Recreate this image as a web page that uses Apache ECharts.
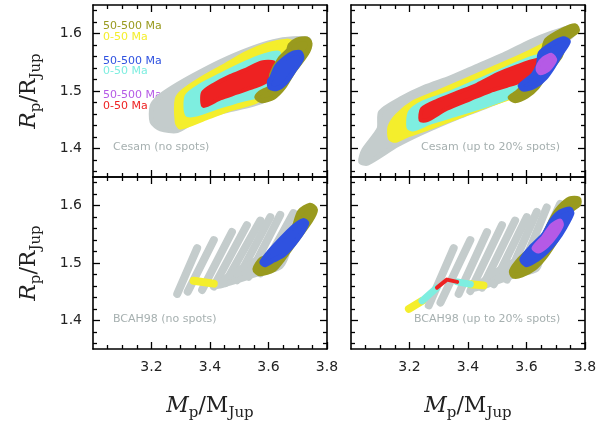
<!DOCTYPE html>
<html>
<head>
<meta charset="utf-8">
<script src="https://cdn.jsdelivr.net/npm/echarts@6/dist/echarts.min.js"></script>
<style>html,body{margin:0;background:#fff}#chart{width:600px;height:421px}</style>
</head>
<body>
<div id="chart"></div>
<script>
// axis ticks
const xMajor = [3.2, 3.4, 3.6, 3.8];
const xMinor = [3.05, 3.1, 3.15, 3.25, 3.3, 3.35, 3.45, 3.5, 3.55, 3.65, 3.7, 3.75];
const yMajor = [1.4, 1.5, 1.6];
const yMinor = [1.36, 1.38, 1.42, 1.44, 1.46, 1.48, 1.52, 1.54, 1.56, 1.58, 1.62, 1.64];

// Cesam, no spots (outlines of the point clouds)
const tlGrey = [[3.202,1.474],[3.225,1.489],[3.276,1.507],[3.344,1.527],[3.435,1.551],[3.526,1.571],[3.617,1.586],[3.685,1.591],[3.736,1.590],[3.740,1.577],[3.697,1.543],[3.640,1.509],[3.594,1.486],[3.549,1.477],[3.458,1.466],[3.367,1.454],[3.288,1.431],[3.231,1.434],[3.202,1.446]];
const tlYellow = [[3.288,1.486],[3.310,1.500],[3.367,1.520],[3.447,1.543],[3.526,1.566],[3.594,1.580],[3.662,1.587],[3.685,1.583],[3.651,1.560],[3.617,1.531],[3.594,1.503],[3.560,1.483],[3.469,1.469],[3.390,1.454],[3.299,1.437],[3.288,1.446]];
const tlCyan = [[3.322,1.491],[3.367,1.509],[3.435,1.527],[3.515,1.547],[3.583,1.561],[3.634,1.566],[3.628,1.543],[3.611,1.514],[3.577,1.494],[3.515,1.486],[3.435,1.474],[3.356,1.460],[3.322,1.460]];
const tlRed = [[3.376,1.497],[3.413,1.511],[3.469,1.526],[3.526,1.538],[3.577,1.550],[3.617,1.550],[3.623,1.537],[3.594,1.517],[3.549,1.507],[3.492,1.497],[3.435,1.487],[3.378,1.474]];
const tlOlive = [[3.674,1.580],[3.697,1.589],[3.731,1.591],[3.742,1.583],[3.731,1.566],[3.685,1.534],[3.651,1.506],[3.617,1.489],[3.577,1.483],[3.560,1.489],[3.572,1.497],[3.606,1.507],[3.611,1.529],[3.640,1.557],[3.668,1.571]];
const tlBlue = [[3.611,1.523],[3.628,1.543],[3.657,1.557],[3.685,1.566],[3.708,1.567],[3.714,1.557],[3.685,1.534],[3.657,1.514],[3.628,1.504],[3.606,1.506],[3.603,1.517]];

// Cesam, up to 20% spots
const trGrey = [[3.033,1.377],[3.044,1.397],[3.096,1.434],[3.101,1.463],[3.169,1.486],[3.249,1.506],[3.340,1.523],[3.431,1.543],[3.522,1.563],[3.613,1.586],[3.681,1.600],[3.749,1.611],[3.766,1.606],[3.749,1.594],[3.647,1.566],[3.613,1.526],[3.567,1.497],[3.465,1.474],[3.363,1.454],[3.249,1.429],[3.158,1.406],[3.056,1.374]];
const trYellow = [[3.135,1.417],[3.133,1.437],[3.158,1.457],[3.215,1.480],[3.294,1.497],[3.385,1.517],[3.476,1.537],[3.567,1.557],[3.647,1.577],[3.726,1.600],[3.766,1.611],[3.766,1.603],[3.669,1.571],[3.635,1.543],[3.613,1.514],[3.567,1.494],[3.476,1.477],[3.374,1.457],[3.272,1.437],[3.192,1.423],[3.152,1.414]];
const trCyan = [[3.198,1.437],[3.203,1.463],[3.249,1.480],[3.328,1.494],[3.419,1.514],[3.510,1.534],[3.578,1.549],[3.647,1.560],[3.658,1.543],[3.635,1.520],[3.601,1.506],[3.544,1.491],[3.453,1.474],[3.363,1.460],[3.272,1.446],[3.215,1.434]];
const trRed = [[3.238,1.449],[3.243,1.469],[3.294,1.483],[3.363,1.497],[3.431,1.511],[3.499,1.529],[3.567,1.543],[3.635,1.554],[3.664,1.551],[3.658,1.540],[3.613,1.531],[3.578,1.517],[3.533,1.509],[3.476,1.500],[3.408,1.486],[3.328,1.469],[3.260,1.449]];
const trOlive = [[3.669,1.589],[3.726,1.607],[3.766,1.614],[3.774,1.605],[3.738,1.591],[3.715,1.560],[3.669,1.531],[3.635,1.506],[3.601,1.491],[3.561,1.483],[3.544,1.489],[3.567,1.497],[3.590,1.509],[3.613,1.520],[3.641,1.543],[3.658,1.571]];
const trBlue = [[3.647,1.566],[3.681,1.580],[3.726,1.591],[3.743,1.586],[3.715,1.563],[3.692,1.543],[3.664,1.523],[3.630,1.509],[3.590,1.503],[3.578,1.509],[3.596,1.517],[3.624,1.529],[3.641,1.546]];
const trViolet = [[3.641,1.546],[3.658,1.557],[3.686,1.563],[3.698,1.554],[3.675,1.537],[3.647,1.531],[3.638,1.537]];

// BCAH98, no spots: grey tracks as [start, end]
const blTracks = [
  [[3.288,1.446],[3.356,1.526]],
  [[3.324,1.450],[3.413,1.540]],
  [[3.373,1.453],[3.475,1.554]],
  [[3.413,1.459],[3.526,1.566]],
  [[3.452,1.465],[3.572,1.574]],
  [[3.492,1.470],[3.606,1.580]],
  [[3.532,1.476],[3.640,1.584]],
  [[3.572,1.482],[3.685,1.587]],
  [[3.606,1.489],[3.719,1.590]]
];
const blGrey = [[3.424,1.460],[3.572,1.483],[3.640,1.494],[3.662,1.520],[3.594,1.514],[3.526,1.497],[3.469,1.480]];
const blYellow = [[3.344,1.469],[3.413,1.464]];
const blOlive = [[3.555,1.489],[3.577,1.506],[3.628,1.514],[3.685,1.557],[3.708,1.589],[3.742,1.600],[3.759,1.593],[3.742,1.574],[3.685,1.534],[3.646,1.506],[3.617,1.489],[3.572,1.482]];
const blBlue = [[3.577,1.501],[3.594,1.514],[3.640,1.540],[3.685,1.563],[3.719,1.574],[3.731,1.569],[3.697,1.540],[3.651,1.514],[3.617,1.505],[3.589,1.497]];

// BCAH98, up to 20% spots
const brTracks = [
  [[3.266,1.426],[3.351,1.526]],
  [[3.306,1.431],[3.408,1.540]],
  [[3.368,1.446],[3.465,1.554]],
  [[3.408,1.451],[3.516,1.566]],
  [[3.448,1.457],[3.561,1.574]],
  [[3.488,1.463],[3.601,1.580]],
  [[3.533,1.471],[3.635,1.589]],
  [[3.578,1.483],[3.669,1.597]],
  [[3.613,1.489],[3.715,1.603]]
];
const brGrey = [[3.420,1.455],[3.567,1.480],[3.635,1.490],[3.650,1.520],[3.590,1.510],[3.520,1.493]];
const brYellowA = [[3.198,1.420],[3.243,1.434]];
const brCyanA = [[3.243,1.434],[3.294,1.457]];
const brRed = [[3.294,1.457],[3.328,1.471],[3.363,1.467]];
const brCyanB = [[3.363,1.467],[3.408,1.463]];
const brYellowB = [[3.408,1.463],[3.453,1.461]];
const brOlive = [[3.550,1.486],[3.578,1.506],[3.613,1.523],[3.658,1.546],[3.692,1.580],[3.715,1.597],[3.749,1.611],[3.777,1.611],[3.777,1.603],[3.749,1.591],[3.726,1.563],[3.692,1.534],[3.658,1.509],[3.624,1.491],[3.584,1.480],[3.556,1.478]];
const brBlue = [[3.584,1.506],[3.613,1.526],[3.658,1.549],[3.686,1.574],[3.715,1.589],[3.749,1.594],[3.755,1.586],[3.732,1.563],[3.703,1.540],[3.669,1.520],[3.635,1.506],[3.601,1.497]];
const brViolet = [[3.624,1.526],[3.658,1.546],[3.686,1.566],[3.715,1.574],[3.721,1.566],[3.698,1.546],[3.669,1.529],[3.641,1.520]];

const C = {
  grey: '#c4cccc', yellow: '#f4ee2c', cyan: '#7eeee0', red: '#ee2222',
  olive: '#999a1e', blue: '#2f52e0', violet: '#b55ae6', label: '#a6b0b0'
};

const myChart = echarts.init(document.getElementById('chart'));

const panels = [
  { left: 93, top: 5 }, { left: 351, top: 5 },
  { left: 93, top: 177 }, { left: 351, top: 177 }
];
const grid = panels.map(p => ({ left: p.left, top: p.top, width: 234, height: 172 }));

const xAxis = [], yAxis = [];
panels.forEach((p, g) => {
  const xl = g >= 2, yl = g % 2 === 0;
  const mk = (pos, ticks, len, line, lab, isX) => ({
    type: 'value', gridIndex: g, position: pos,
    min: isX ? 3.0 : 1.35, max: isX ? 3.8 : 1.65,
    axisLine: { show: line, onZero: false, lineStyle: { color: '#000', width: 1.6 } },
    axisTick: { show: true, inside: true, length: len, customValues: ticks, lineStyle: { color: '#000', width: 1.3 } },
    axisLabel: lab ? { show: true, customValues: ticks, margin: 11, fontSize: 14, color: '#222',
      fontFamily: 'DejaVu Sans', formatter: v => v.toFixed(1) } : { show: false },
    splitLine: { show: false }
  });
  xAxis.push(mk('bottom', xMajor, 7, true, xl, true), mk('top', xMajor, 7, true, false, true),
             mk('bottom', xMinor, 4, false, false, true), mk('top', xMinor, 4, false, false, true));
  yAxis.push(mk('left', yMajor, 7, true, yl, false), mk('right', yMajor, 7, true, false, false),
             mk('left', yMinor, 4, false, false, false), mk('right', yMinor, 4, false, false, false));
});

function shape(g, pts, color, kind, w) {
  return {
    type: 'custom', xAxisIndex: 4 * g, yAxisIndex: 4 * g, clip: true, silent: true,
    data: [pts[0]],
    renderItem: (params, api) => {
      const p = pts.map(d => api.coord(d));
      if (kind === 'area') {
        return { type: 'polygon', shape: { points: p, smooth: 0.25 },
          style: { fill: color, stroke: color, lineWidth: w, lineJoin: 'round' } };
      }
      return { type: 'polyline', shape: { points: p },
        style: { fill: null, stroke: color, lineWidth: w, lineCap: 'round', lineJoin: 'round' } };
    }
  };
}

const series = [
  shape(0, tlGrey, C.grey, 'area', 5),
  shape(0, tlYellow, C.yellow, 'area', 5),
  shape(0, tlCyan, C.cyan, 'area', 5),
  shape(0, tlRed, C.red, 'area', 4),
  shape(0, tlOlive, C.olive, 'area', 5),
  shape(0, tlBlue, C.blue, 'area', 5),

  shape(1, trGrey, C.grey, 'area', 5),
  shape(1, trYellow, C.yellow, 'area', 5),
  shape(1, trCyan, C.cyan, 'area', 5),
  shape(1, trRed, C.red, 'area', 4),
  shape(1, trOlive, C.olive, 'area', 5),
  shape(1, trBlue, C.blue, 'area', 5),
  shape(1, trViolet, C.violet, 'area', 4),

  ...blTracks.map(t => shape(2, t, C.grey, 'line', 8)),
  shape(2, blGrey, C.grey, 'area', 6),
  shape(2, blYellow, C.yellow, 'line', 8),
  shape(2, blOlive, C.olive, 'area', 6),
  shape(2, blBlue, C.blue, 'area', 5),

  ...brTracks.map(t => shape(3, t, C.grey, 'line', 8)),
  shape(3, brGrey, C.grey, 'area', 6),
  shape(3, brYellowA, C.yellow, 'line', 8),
  shape(3, brCyanA, C.cyan, 'line', 7),
  shape(3, brYellowB, C.yellow, 'line', 8),
  shape(3, brCyanB, C.cyan, 'line', 7),
  shape(3, brRed, C.red, 'line', 4),
  shape(3, brOlive, C.olive, 'area', 6),
  shape(3, brBlue, C.blue, 'area', 5),
  shape(3, brViolet, C.violet, 'area', 4)
];

const note = (x, y, text, color) => ({
  type: 'text', left: x, top: y, silent: true,
  style: { text, fill: color, font: '11px "DejaVu Sans"' }
});
const mathRich = {
  i: { fontFamily: 'DejaVu Serif', fontStyle: 'italic', fontSize: 22, lineHeight: 30, verticalAlign: 'middle' },
  n: { fontFamily: 'DejaVu Serif', fontSize: 22, lineHeight: 30, verticalAlign: 'middle' },
  s: { fontFamily: 'DejaVu Serif', fontSize: 15, lineHeight: 30, verticalAlign: 'bottom' }
};
const xTitle = cx => ({
  type: 'text', x: cx, y: 406, silent: true,
  style: { text: '{i|M}{s|p}{n|/M}{s|Jup}', rich: mathRich, fill: '#222', align: 'center', verticalAlign: 'middle' }
});
const yTitle = cy => ({
  type: 'text', x: 29, y: cy, rotation: Math.PI / 2, silent: true,
  style: { text: '{i|R}{s|p}{n|/R}{s|Jup}', rich: mathRich, fill: '#222', align: 'center', verticalAlign: 'middle' }
});

const option = {
  backgroundColor: '#fff',
  animation: false,
  grid, xAxis, yAxis, series,
  graphic: [
    note(103, 21, '50-500 Ma', C.olive),
    note(103, 32, '0-50 Ma', C.yellow),
    note(103, 56, '50-500 Ma', C.blue),
    note(103, 66, '0-50 Ma', C.cyan),
    note(103, 90, '50-500 Ma', C.violet),
    note(103, 101, '0-50 Ma', C.red),
    note(113, 142, 'Cesam (no spots)', C.label),
    note(421, 142, 'Cesam (up to 20% spots)', C.label),
    note(113, 314, 'BCAH98 (no spots)', C.label),
    note(414, 314, 'BCAH98 (up to 20% spots)', C.label),
    xTitle(210), xTitle(468),
    yTitle(91), yTitle(263)
  ]
};

option && myChart.setOption(option);
</script>
</body>
</html>
